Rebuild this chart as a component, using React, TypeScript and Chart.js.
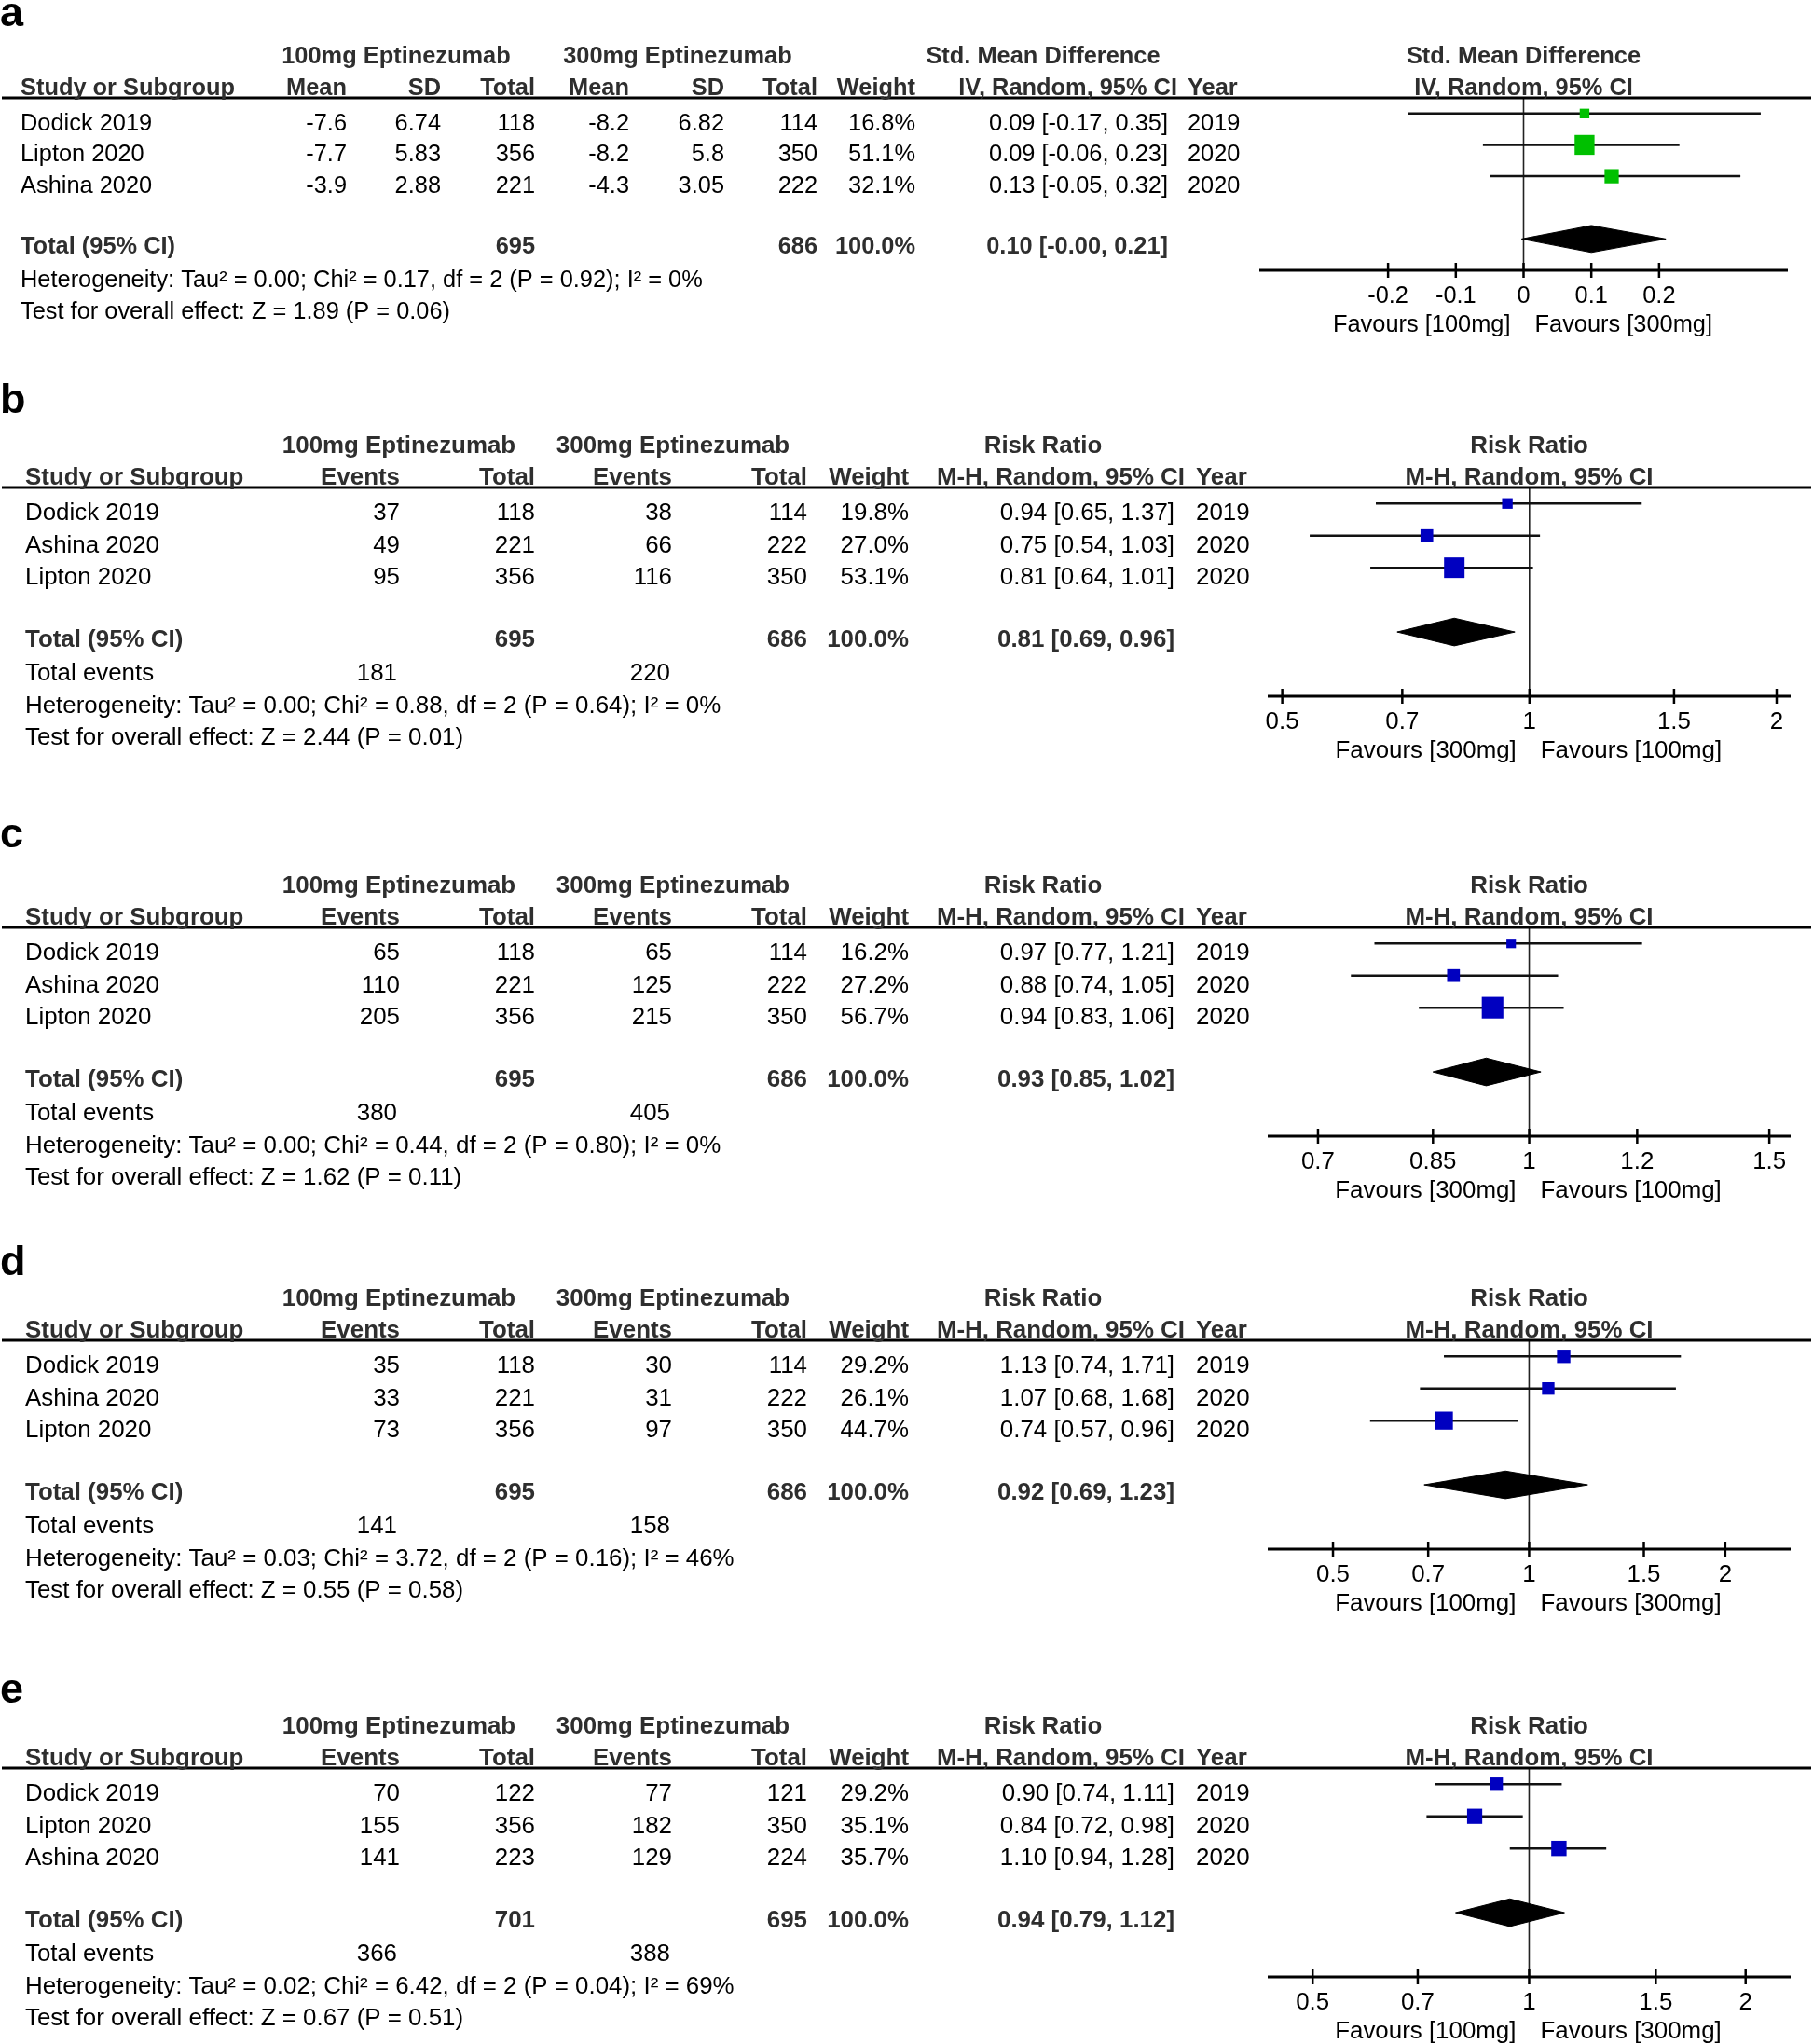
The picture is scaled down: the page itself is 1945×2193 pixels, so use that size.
import React, { useEffect, useRef } from 'react';
import { Chart, registerables } from 'chart.js';

Chart.register(...registerables);

const FONT = '"Liberation Sans", Arial, Helvetica, sans-serif';
const PAGE_W = 1945;

// ---------------- Panel a : Std. Mean Difference ----------------
const A_STUDIES = ['Dodick 2019', 'Lipton 2020', 'Ashina 2020'];
const A_MEAN_100 = [-7.6, -7.7, -3.9];
const A_SD_100 = [6.74, 5.83, 2.88];
const A_N_100 = [118, 356, 221];
const A_MEAN_300 = [-8.2, -8.2, -4.3];
const A_SD_300 = [6.82, 5.8, 3.05];
const A_N_300 = [114, 350, 222];
const A_WEIGHT = [16.8, 51.1, 32.1];
const A_EST = [0.09, 0.09, 0.13];
const A_LO = [-0.17, -0.06, -0.05];
const A_HI = [0.35, 0.23, 0.32];
const A_YEAR = [2019, 2020, 2020];
const A_TOTAL_N = [695, 686];
const A_TOTAL_CI = [0.1, -0.003, 0.21];
const A_TICKS = [-0.2, -0.1, 0, 0.1, 0.2];

// ---------------- Panel b ----------------
const B_STUDIES = ['Dodick 2019', 'Ashina 2020', 'Lipton 2020'];
const B_EV_100 = [37, 49, 95];
const B_N_100 = [118, 221, 356];
const B_EV_300 = [38, 66, 116];
const B_N_300 = [114, 222, 350];
const B_WEIGHT = [19.8, 27.0, 53.1];
const B_EST = [0.94, 0.75, 0.81];
const B_LO = [0.65, 0.54, 0.64];
const B_HI = [1.37, 1.03, 1.01];
const B_YEAR = [2019, 2020, 2020];
const B_TOTAL_N = [695, 686];
const B_TOTAL_EVENTS = [181, 220];
const B_TOTAL_CI = [0.81, 0.69, 0.96];
const B_TICKS = [0.5, 0.7, 1, 1.5, 2];

// ---------------- Panel c ----------------
const C_STUDIES = ['Dodick 2019', 'Ashina 2020', 'Lipton 2020'];
const C_EV_100 = [65, 110, 205];
const C_N_100 = [118, 221, 356];
const C_EV_300 = [65, 125, 215];
const C_N_300 = [114, 222, 350];
const C_WEIGHT = [16.2, 27.2, 56.7];
const C_EST = [0.97, 0.88, 0.94];
const C_LO = [0.77, 0.74, 0.83];
const C_HI = [1.21, 1.05, 1.06];
const C_YEAR = [2019, 2020, 2020];
const C_TOTAL_N = [695, 686];
const C_TOTAL_EVENTS = [380, 405];
const C_TOTAL_CI = [0.93, 0.85, 1.02];
const C_TICKS = [0.7, 0.85, 1, 1.2, 1.5];

// ---------------- Panel d ----------------
const D_STUDIES = ['Dodick 2019', 'Ashina 2020', 'Lipton 2020'];
const D_EV_100 = [35, 33, 73];
const D_N_100 = [118, 221, 356];
const D_EV_300 = [30, 31, 97];
const D_N_300 = [114, 222, 350];
const D_WEIGHT = [29.2, 26.1, 44.7];
const D_EST = [1.13, 1.07, 0.74];
const D_LO = [0.74, 0.68, 0.57];
const D_HI = [1.71, 1.68, 0.96];
const D_YEAR = [2019, 2020, 2020];
const D_TOTAL_N = [695, 686];
const D_TOTAL_EVENTS = [141, 158];
const D_TOTAL_CI = [0.92, 0.69, 1.23];
const D_TICKS = [0.5, 0.7, 1, 1.5, 2];

// ---------------- Panel e ----------------
const E_STUDIES = ['Dodick 2019', 'Lipton 2020', 'Ashina 2020'];
const E_EV_100 = [70, 155, 141];
const E_N_100 = [122, 356, 223];
const E_EV_300 = [77, 182, 129];
const E_N_300 = [121, 350, 224];
const E_WEIGHT = [29.2, 35.1, 35.7];
const E_EST = [0.9, 0.84, 1.1];
const E_LO = [0.74, 0.72, 0.94];
const E_HI = [1.11, 0.98, 1.28];
const E_YEAR = [2019, 2020, 2020];
const E_TOTAL_N = [701, 695];
const E_TOTAL_EVENTS = [366, 388];
const E_TOTAL_CI = [0.94, 0.79, 1.12];
const E_TICKS = [0.5, 0.7, 1, 1.5, 2];

const HETEROGENEITY = [
  'Heterogeneity: Tau² = 0.00; Chi² = 0.17, df = 2 (P = 0.92); I² = 0%',
  'Heterogeneity: Tau² = 0.00; Chi² = 0.88, df = 2 (P = 0.64); I² = 0%',
  'Heterogeneity: Tau² = 0.00; Chi² = 0.44, df = 2 (P = 0.80); I² = 0%',
  'Heterogeneity: Tau² = 0.03; Chi² = 3.72, df = 2 (P = 0.16); I² = 46%',
  'Heterogeneity: Tau² = 0.02; Chi² = 6.42, df = 2 (P = 0.04); I² = 69%',
];
const OVERALL_EFFECT = [
  'Test for overall effect: Z = 1.89 (P = 0.06)',
  'Test for overall effect: Z = 2.44 (P = 0.01)',
  'Test for overall effect: Z = 1.62 (P = 0.11)',
  'Test for overall effect: Z = 0.55 (P = 0.58)',
  'Test for overall effect: Z = 0.67 (P = 0.51)',
];
const FAVOURS = [
  ['Favours [100mg]', 'Favours [300mg]'],
  ['Favours [300mg]', 'Favours [100mg]'],
  ['Favours [300mg]', 'Favours [100mg]'],
  ['Favours [100mg]', 'Favours [300mg]'],
  ['Favours [100mg]', 'Favours [300mg]'],
];
const X_RANGES = [
  [-0.39, 0.39],
  [0.48, 2.08],
  [0.643, 1.555],
  [0.397, 2.52],
  [0.433, 2.31],
];

// ---------------- layout (positions / styles) ----------------
const SMD_LAYOUT = {
  fontSize: 25.4,
  studyX: 22,
  groupCenters: [425, 727],
  colHeaders: ['Mean', 'SD', 'Total', 'Mean', 'SD', 'Total'],
  colRights: [372, 473, 574, 675, 777, 877],
  totalCols: [2, 5],
  eventCols: [] as number[],
  weightRight: 982,
  effTitle: 'Std. Mean Difference',
  effSub: 'IV, Random, 95% CI',
  effCenter: 1119,
  effSubRight: 1263,
  yearX: 1274,
  ciRight: 1253,
  plotLeft: 1351,
  plotRight: 1918,
};
const RR_LAYOUT = {
  fontSize: 25.9,
  studyX: 27,
  groupCenters: [428, 722],
  colHeaders: ['Events', 'Total', 'Events', 'Total'],
  colRights: [429, 574, 721, 866],
  totalCols: [1, 3],
  eventCols: [0, 2],
  weightRight: 975,
  effTitle: 'Risk Ratio',
  effSub: 'M-H, Random, 95% CI',
  effCenter: 1119,
  effSubRight: 1271,
  yearX: 1283,
  ciRight: 1260,
  plotLeft: 1360,
  plotRight: 1921,
};
const GEOM = [
  { letter: 'a', top: 0, height: 390, base: 105, axis: 290, letterY: 28, yMax: 5 },
  { letter: 'b', top: 390, height: 470, base: 133, axis: 357, letterY: 53, yMax: 6 },
  { letter: 'c', top: 860, height: 460, base: 135, axis: 359, letterY: 49, yMax: 6 },
  { letter: 'd', top: 1320, height: 460, base: 118, axis: 342, letterY: 48, yMax: 6 },
  { letter: 'e', top: 1780, height: 413, base: 117, axis: 341, letterY: 47, yMax: 6 },
];
const TOTAL_ROW = 4;

type Spec = {
  idx: number;
  kind: 'smd' | 'rr';
  studies: string[];
  cols: number[][];
  weights: number[];
  est: number[];
  lo: number[];
  hi: number[];
  years: number[];
  totalN: number[];
  totalEvents: number[] | null;
  totalCI: number[];
  ticks: number[];
  nullV: number;
  color: string;
};

const SPECS: Spec[] = [
  {
    idx: 0, kind: 'smd', studies: A_STUDIES,
    cols: [A_MEAN_100, A_SD_100, A_N_100, A_MEAN_300, A_SD_300, A_N_300],
    weights: A_WEIGHT, est: A_EST, lo: A_LO, hi: A_HI, years: A_YEAR,
    totalN: A_TOTAL_N, totalEvents: null, totalCI: A_TOTAL_CI, ticks: A_TICKS, nullV: 0, color: '#00C000',
  },
  {
    idx: 1, kind: 'rr', studies: B_STUDIES, cols: [B_EV_100, B_N_100, B_EV_300, B_N_300],
    weights: B_WEIGHT, est: B_EST, lo: B_LO, hi: B_HI, years: B_YEAR,
    totalN: B_TOTAL_N, totalEvents: B_TOTAL_EVENTS, totalCI: B_TOTAL_CI, ticks: B_TICKS, nullV: 1, color: '#0000C0',
  },
  {
    idx: 2, kind: 'rr', studies: C_STUDIES, cols: [C_EV_100, C_N_100, C_EV_300, C_N_300],
    weights: C_WEIGHT, est: C_EST, lo: C_LO, hi: C_HI, years: C_YEAR,
    totalN: C_TOTAL_N, totalEvents: C_TOTAL_EVENTS, totalCI: C_TOTAL_CI, ticks: C_TICKS, nullV: 1, color: '#0000C0',
  },
  {
    idx: 3, kind: 'rr', studies: D_STUDIES, cols: [D_EV_100, D_N_100, D_EV_300, D_N_300],
    weights: D_WEIGHT, est: D_EST, lo: D_LO, hi: D_HI, years: D_YEAR,
    totalN: D_TOTAL_N, totalEvents: D_TOTAL_EVENTS, totalCI: D_TOTAL_CI, ticks: D_TICKS, nullV: 1, color: '#0000C0',
  },
  {
    idx: 4, kind: 'rr', studies: E_STUDIES, cols: [E_EV_100, E_N_100, E_EV_300, E_N_300],
    weights: E_WEIGHT, est: E_EST, lo: E_LO, hi: E_HI, years: E_YEAR,
    totalN: E_TOTAL_N, totalEvents: E_TOTAL_EVENTS, totalCI: E_TOTAL_CI, ticks: E_TICKS, nullV: 1, color: '#0000C0',
  },
];

const BOLD_COLOR = '#2e2e2e';
const LINE_COLOR = '#111111';

function fmtCI(e: number, l: number, h: number) {
  return `${e.toFixed(2)} [${l.toFixed(2)}, ${h.toFixed(2)}]`;
}

function ForestPanel({ p }: { p: Spec }) {
  const ref = useRef<HTMLCanvasElement>(null);
  const g = GEOM[p.idx];

  useEffect(() => {
    const canvas = ref.current;
    if (!canvas) return;
    const L = p.kind === 'smd' ? SMD_LAYOUT : RR_LAYOUT;
    const [xMin, xMax] = X_RANGES[p.idx];
    const [tE, tL, tH] = p.totalCI;
    const dh = 0.43;

    const datasets: any[] = [];
    datasets.push({
      label: 'studies',
      data: p.est.map((e, i) => ({ x: e, y: i })),
      pointStyle: 'rect',
      pointRadius: p.weights.map((w) => (5 + 0.32 * w) / Math.SQRT2),
      pointBackgroundColor: p.color,
      pointBorderColor: p.color,
      pointBorderWidth: 0,
      showLine: false,
      clip: false,
    });
    datasets.push({
      label: 'total',
      data: [
        { x: tL, y: TOTAL_ROW },
        { x: tE, y: TOTAL_ROW - dh },
        { x: tH, y: TOTAL_ROW },
        { x: tE, y: TOTAL_ROW + dh },
        { x: tL, y: TOTAL_ROW },
      ],
      showLine: true,
      fill: 'shape',
      backgroundColor: '#000',
      borderColor: '#000',
      borderWidth: 1,
      pointRadius: 0,
      tension: 0,
      clip: false,
    });
    p.lo.forEach((lo, i) => {
      datasets.push({
        label: 'ci' + i,
        data: [
          { x: lo, y: i },
          { x: p.hi[i], y: i },
        ],
        showLine: true,
        borderColor: LINE_COLOR,
        borderWidth: 2.5,
        pointRadius: 0,
        clip: false,
      });
    });
    datasets.push({
      label: 'null',
      data: [
        { x: p.nullV, y: -0.5 },
        { x: p.nullV, y: g.yMax },
      ],
      showLine: true,
      borderColor: '#222',
      borderWidth: 1.6,
      pointRadius: 0,
      clip: false,
    });

    const textPlugin = {
      id: 'forestText' + p.idx,
      afterDraw(chart: any) {
        const ctx: CanvasRenderingContext2D = chart.ctx;
        const ca = chart.chartArea;
        const xs = chart.scales.x;
        const ys = chart.scales.y;
        ctx.save();
        ctx.textBaseline = 'alphabetic';
        const txt = (s: string, x: number, y: number, align: CanvasTextAlign, bold = false) => {
          ctx.font = `${bold ? 'bold ' : ''}${L.fontSize}px ${FONT}`;
          ctx.textAlign = align;
          ctx.fillStyle = bold ? BOLD_COLOR : '#000';
          ctx.fillText(s, x, y);
        };
        const line = (x1: number, y1: number, x2: number, y2: number) => {
          ctx.beginPath();
          ctx.moveTo(x1, y1);
          ctx.lineTo(x2, y2);
          ctx.stroke();
        };

        // panel letter
        ctx.font = `bold 45px ${FONT}`;
        ctx.fillStyle = '#000';
        ctx.textAlign = 'left';
        ctx.fillText(g.letter, 0, g.letterY);

        // header rule and axis
        ctx.strokeStyle = '#000';
        ctx.lineWidth = 3;
        line(2, ca.top, PAGE_W - 2, ca.top);
        line(ca.left, ca.bottom, ca.right, ca.bottom);
        ctx.lineWidth = 2.5;
        p.ticks.forEach((t) => {
          const x = xs.getPixelForValue(t);
          line(x, ca.bottom - 8, x, ca.bottom + 8);
          txt(String(t), x, ca.bottom + 35, 'center');
        });
        const x0 = xs.getPixelForValue(p.nullV);
        txt(FAVOURS[p.idx][0], x0 - 14, ca.bottom + 66, 'right');
        txt(FAVOURS[p.idx][1], x0 + 12, ca.bottom + 66, 'left');

        // headers
        const h1 = ca.top - 37;
        const h2 = ca.top - 3;
        txt('100mg Eptinezumab', L.groupCenters[0], h1, 'center', true);
        txt('300mg Eptinezumab', L.groupCenters[1], h1, 'center', true);
        txt('Study or Subgroup', L.studyX, h2, 'left', true);
        L.colHeaders.forEach((h, j) => txt(h, L.colRights[j], h2, 'right', true));
        txt('Weight', L.weightRight, h2, 'right', true);
        txt(L.effTitle, L.effCenter, h1, 'center', true);
        txt(L.effSub, L.effSubRight, h2, 'right', true);
        txt('Year', L.yearX, h2, 'left', true);
        const pc = (ca.left + ca.right) / 2;
        txt(L.effTitle, pc, h1, 'center', true);
        txt(L.effSub, pc, h2, 'center', true);

        // study rows
        p.studies.forEach((s, i) => {
          const y = ys.getPixelForValue(i) + 18;
          txt(s, L.studyX, y, 'left');
          p.cols.forEach((col, j) => txt(String(col[i]), L.colRights[j], y, 'right'));
          txt(p.weights[i].toFixed(1) + '%', L.weightRight, y, 'right');
          txt(fmtCI(p.est[i], p.lo[i], p.hi[i]), L.ciRight, y, 'right');
          txt(String(p.years[i]), L.yearX, y, 'left');
        });

        // total row
        let y = ys.getPixelForValue(TOTAL_ROW) + 16;
        txt('Total (95% CI)', L.studyX, y, 'left', true);
        txt(String(p.totalN[0]), L.colRights[L.totalCols[0]], y, 'right', true);
        txt(String(p.totalN[1]), L.colRights[L.totalCols[1]], y, 'right', true);
        txt('100.0%', L.weightRight, y, 'right', true);
        txt(fmtCI(tE, tL, tH), L.ciRight, y, 'right', true);
        if (p.totalEvents) {
          y += 36;
          txt('Total events', L.studyX, y, 'left');
          txt(String(p.totalEvents[0]), L.colRights[L.eventCols[0]] - 3, y, 'right');
          txt(String(p.totalEvents[1]), L.colRights[L.eventCols[1]] - 2, y, 'right');
          y += 35;
        } else {
          y += 36;
        }
        txt(HETEROGENEITY[p.idx], L.studyX, y, 'left');
        y += 34;
        txt(OVERALL_EFFECT[p.idx], L.studyX, y, 'left');
        ctx.restore();
      },
    };

    const chart = new Chart(canvas, {
      type: 'scatter',
      data: { datasets },
      options: {
        responsive: false,
        maintainAspectRatio: false,
        animation: false,
        devicePixelRatio: 1,
        events: [],
        layout: {
          padding: {
            left: L.plotLeft,
            right: PAGE_W - L.plotRight,
            top: g.base,
            bottom: g.height - g.axis,
          },
        },
        scales: {
          x: {
            type: p.kind === 'smd' ? 'linear' : 'logarithmic',
            min: xMin,
            max: xMax,
            bounds: 'data',
            display: false,
          },
          y: {
            type: 'linear',
            min: -0.5,
            max: g.yMax,
            reverse: true,
            bounds: 'data',
            display: false,
          },
        },
        plugins: {
          legend: { display: false },
          tooltip: { enabled: false },
        },
      } as any,
      plugins: [textPlugin],
    });
    return () => chart.destroy();
  }, []);

  return (
    <canvas
      ref={ref}
      width={PAGE_W}
      height={g.height}
      style={{ position: 'absolute', left: 0, top: g.top, width: PAGE_W, height: g.height }}
    />
  );
}

export default function App() {
  return (
    <div
      style={{
        position: 'absolute',
        left: 0,
        top: 0,
        width: PAGE_W,
        height: 2193,
        background: '#fff',
        overflow: 'hidden',
      }}
    >
      {SPECS.map((p) => (
        <ForestPanel key={p.idx} p={p} />
      ))}
    </div>
  );
}
